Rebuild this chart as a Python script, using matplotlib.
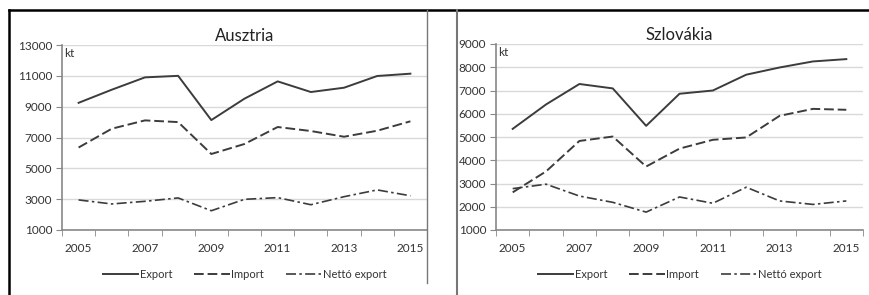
import numpy as np
import matplotlib.pyplot as plt
from matplotlib.lines import Line2D

years = list(range(2005, 2016))

at_export = [9250, 10100, 10900, 11000, 8130, 9520, 10640, 9950, 10230, 10990, 11140]
at_import = [6350, 7570, 8110, 8000, 5930, 6580, 7680, 7420, 7050, 7440, 8050]
at_netto = [2950, 2690, 2860, 3080, 2250, 2990, 3100, 2640, 3160, 3600, 3220]

sk_export = [5350, 6400, 7280, 7090, 5480, 6860, 7000, 7680, 7990, 8250, 8350]
sk_import = [2620, 3520, 4830, 5020, 3730, 4500, 4880, 4980, 5910, 6210, 6170]
sk_netto = [2780, 2970, 2460, 2190, 1770, 2420, 2150, 2840, 2250, 2100, 2250]

plt.rcParams['font.family'] = ['Lato', 'DejaVu Sans']

W, H = 870, 295
fig = plt.figure(figsize=(W / 100, H / 100), dpi=100)
fig.patch.set_facecolor('white')

line_col = '#3c3c3c'
txt_col = '#333333'


def draw_panel(rect, title, exp, imp, net, yticks):
    ax = fig.add_axes(rect)
    x = np.arange(len(years))
    ax.plot(x, exp, color=line_col, lw=1.4, label='Export')
    ax.plot(x, imp, color=line_col, lw=1.4, dashes=(5, 2), label='Import')
    ax.plot(x, net, color=line_col, lw=1.2, dashes=(6, 2, 1.5, 2), label='Nettó export')
    ax.set_xlim(-0.5, len(years) - 0.5)
    ax.set_ylim(yticks[0], yticks[-1])
    ax.set_yticks(yticks)
    ax.set_yticklabels([str(v) for v in yticks], fontsize=8.5, color=txt_col)
    ax.set_xticks(x[::2])
    ax.set_xticklabels([str(y) for y in years[::2]], fontsize=8.5, color=txt_col)
    ax.set_xticks(np.arange(-0.5, len(years)), minor=True)
    ax.tick_params(axis='x', which='major', length=0, pad=9)
    ax.tick_params(axis='x', which='minor', length=4, color='#888888', direction='out')
    ax.tick_params(axis='y', length=4, color='#888888', pad=3)
    ax.grid(axis='y', color='#d9d9d9', lw=1)
    ax.set_axisbelow(True)
    for s in ['top', 'right']:
        ax.spines[s].set_visible(False)
    for s in ['left', 'bottom']:
        ax.spines[s].set_color('#888888')
        ax.spines[s].set_linewidth(1.2)
    ax.set_title(title, fontsize=12, color='#222222', pad=3)
    ax.text(0.005, 0.985, 'kt', transform=ax.transAxes, fontsize=8.5,
            color=txt_col, va='top', ha='left')
    ax.legend(loc='upper center', bbox_to_anchor=(0.5, -0.155), ncol=3,
              frameon=False, fontsize=8, handlelength=3.2, columnspacing=2,
              handletextpad=0.1, labelcolor=txt_col)
    return ax


draw_panel([62 / W, 1 - 230 / H, 365 / W, 185 / H], 'Ausztria',
           at_export, at_import, at_netto, list(range(1000, 13001, 2000)))
draw_panel([496 / W, 1 - 230 / H, 367 / W, 186 / H], 'Szlovákia',
           sk_export, sk_import, sk_netto, list(range(1000, 9001, 1000)))

# frame lines
fig.add_artist(Line2D([9 / W, 1], [1 - 10 / H, 1 - 10 / H], color='black', lw=1.8,
                      transform=fig.transFigure))
fig.add_artist(Line2D([9 / W, 9 / W], [0, 1 - 10 / H], color='black', lw=1.8,
                      transform=fig.transFigure))
fig.add_artist(Line2D([427 / W, 427 / W], [1 - 283 / H, 1 - 10 / H], color='#777777',
                      lw=1, transform=fig.transFigure))
fig.add_artist(Line2D([457 / W, 457 / W], [0, 1 - 10 / H], color='#777777',
                      lw=1.5, transform=fig.transFigure))

fig.savefig('out.png', dpi=100)
